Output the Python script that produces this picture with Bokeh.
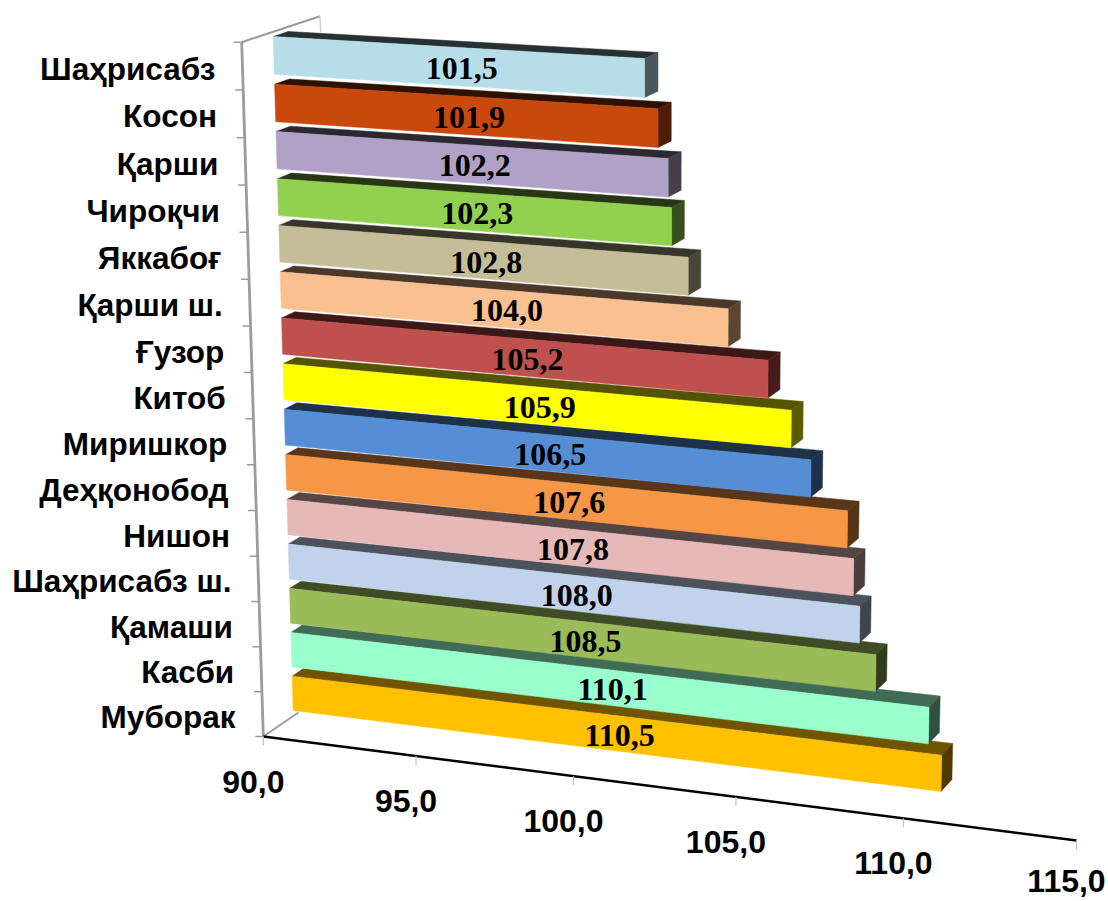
import numpy as np
from bokeh.plotting import figure
from bokeh.models import Range1d
from bokeh.core.properties import value
from bokeh.embed import file_html
from bokeh.resources import INLINE

categories = ["Шаҳрисабз", "Косон", "Қарши", "Чироқчи", "Яккабоғ", "Қарши ш.", "Ғузор", "Китоб",
              "Миришкор", "Деҳқонобод", "Нишон", "Шаҳрисабз ш.", "Қамаши", "Касби", "Муборак"]
values = [101.5, 101.9, 102.2, 102.3, 102.8, 104.0, 105.2, 105.9,
          106.5, 107.6, 107.8, 108.0, 108.5, 110.1, 110.5]
colors = ["#B7DEE8", "#C9490C", "#B2A1C7", "#92D050", "#C4BD97", "#FAC090", "#C0504D", "#FFFF00",
          "#558ED5", "#F79646", "#E6B9B8", "#C1D3EA", "#9BBB59", "#99FFCC", "#FFC000"]
x_ticks = [90, 95, 100, 105, 110, 115]
vmin, vmax = 90.0, 115.0
gap = 0.105


def fit(src, dst):
    A, b = [], []
    for (u, w), (x, y) in zip(src, dst):
        A.append([u, w, 1, 0, 0, 0, -u * x, -w * x]); b.append(x)
        A.append([0, 0, 0, u, w, 1, -u * y, -w * y]); b.append(y)
    h = np.linalg.solve(np.array(A, float), np.array(b, float))
    return np.append(h, 1).reshape(3, 3)


def proj(H, v, k):
    q = H @ np.array([v, k, 1.0])
    return q[0] / q[2], q[1] / q[2]


n = len(values)
kt, kb = gap, n - gap
front = fit([(90, kt), (101.5, kt), (90, kb), (110.5, kb)],
            [(272.7, 36), (644, 58), (292.7, 710), (940.5, 791)])
fx, fy = proj(front, 115, 0)
gx, gy = proj(front, 90, 0)
axis_pl = fit([(90, 0), (90, n), (115, n), (115, 0)],
              [(241.2, 41.7), (262.8, 736), (1076, 840), (fx + 241.2 - gx, fy + 41.7 - gy)])


def depth(v, k):
    """Screen offset of the bar's rear edge from its front edge."""
    f = k / n
    u = v - vmin
    return (15.0 - 4.3 * f + u * (-0.13 + 0.14 * f),
            -(5.0 + 2.7 * f) - u * (0.087 + 0.123 * f))


def rear(v, k):
    x, y = proj(front, v, k)
    dx, dy = depth(v, k)
    return x + dx, y + dy


def shade(c, f):
    r, g, b = int(c[1:3], 16), int(c[3:5], 16), int(c[5:7], 16)
    return "#%02X%02X%02X" % (int(r * f), int(g * f), int(b * f))


xs, ys, fills = [], [], []
for i in range(n - 1, -1, -1):
    v, c = values[i], colors[i]
    t, b = i + gap, i + 1 - gap
    A, B = proj(front, vmin, t), proj(front, v, t)
    C, D = proj(front, v, b), proj(front, vmin, b)
    E, F = rear(vmin, t), rear(v, t)
    G = rear(v, b)
    frac = i / (n - 1)
    faces = [([A, B, F, E], shade(c, 0.22 + 0.22 * frac)),
             ([B, F, G, C], shade(c, 0.40 - 0.09 * frac)),
             ([A, B, C, D], c)]
    for pts, col in faces:
        xs.append([q[0] for q in pts]); ys.append([q[1] for q in pts]); fills.append(col)

p = figure(width=1108, height=901, x_range=Range1d(0, 1108), y_range=Range1d(901, 0),
           output_backend="svg", toolbar_location=None, min_border=0,
           outline_line_color=None, background_fill_color="white")
p.axis.visible = False
p.grid.visible = False

# walls
a0, a1 = proj(axis_pl, vmin, 0), proj(axis_pl, vmin, n)
p.line([a0[0], a0[0] + 78.3], [a0[1], a0[1] - 26], line_color="#9C9C9C", line_width=2.2)
p.line([a0[0] + 78.3, a0[0] + 79], [a0[1] - 26, a0[1] - 10], line_color="#D0D0D0", line_width=1.5)
p.line([a1[0], a1[0] + 35], [a1[1], a1[1] - 24], line_color="#9C9C9C", line_width=2)
p.line([a0[0], a1[0]], [a0[1], a1[1]], line_color="#9C9C9C", line_width=2.8)
for k in range(n + 1):
    q = proj(axis_pl, vmin, k)
    p.line([q[0] - 8, q[0]], [q[1], q[1]], line_color="#9C9C9C", line_width=1.5)

e0, e1 = proj(axis_pl, vmin, n), proj(axis_pl, vmax, n)
p.patches(xs, ys, fill_color=fills, line_color=fills, line_width=0.5)
p.line([e0[0], e1[0]], [e0[1], e1[1]], line_color="#000000", line_width=2.5)
for tv in x_ticks:
    q = proj(axis_pl, tv, n)
    p.line([q[0], q[0]], [q[1], q[1] + 9], line_color="#B4C6DC", line_width=1.2)
    p.text([q[0] - 10], [min(q[1] + 45, 880)], text=[f"{tv:.1f}".replace(".", ",")], text_align="center",
           text_baseline="middle", text_font=value("Liberation Sans"), text_font_style="bold",
           text_font_size=value("32px"), text_color="#000000")

for i, (name, v) in enumerate(zip(categories, values)):
    q = proj(axis_pl, vmin, i + 0.5)
    p.text([q[0] - 27], [q[1] + 2.5], text=[name], text_align="right", text_baseline="middle",
           text_font=value("Liberation Sans"), text_font_style="bold",
           text_font_size=value("31.5px"), text_color="#000000")
    t, b = i + gap, i + 1 - gap
    pts = [proj(front, vmin, t), proj(front, v, t), proj(front, v, b), proj(front, vmin, b)]
    cx = sum(a[0] for a in pts) / 4 + 2.5
    cy = sum(a[1] for a in pts) / 4 + 2
    p.text([cx], [cy], text=[f"{v:.1f}".replace(".", ",")], text_align="center",
           text_baseline="middle", text_font=value("Liberation Serif"), text_font_style="bold",
           text_font_size=value("32px"), text_color="#000000")

open("out.html", "w").write(file_html(p, INLINE))
